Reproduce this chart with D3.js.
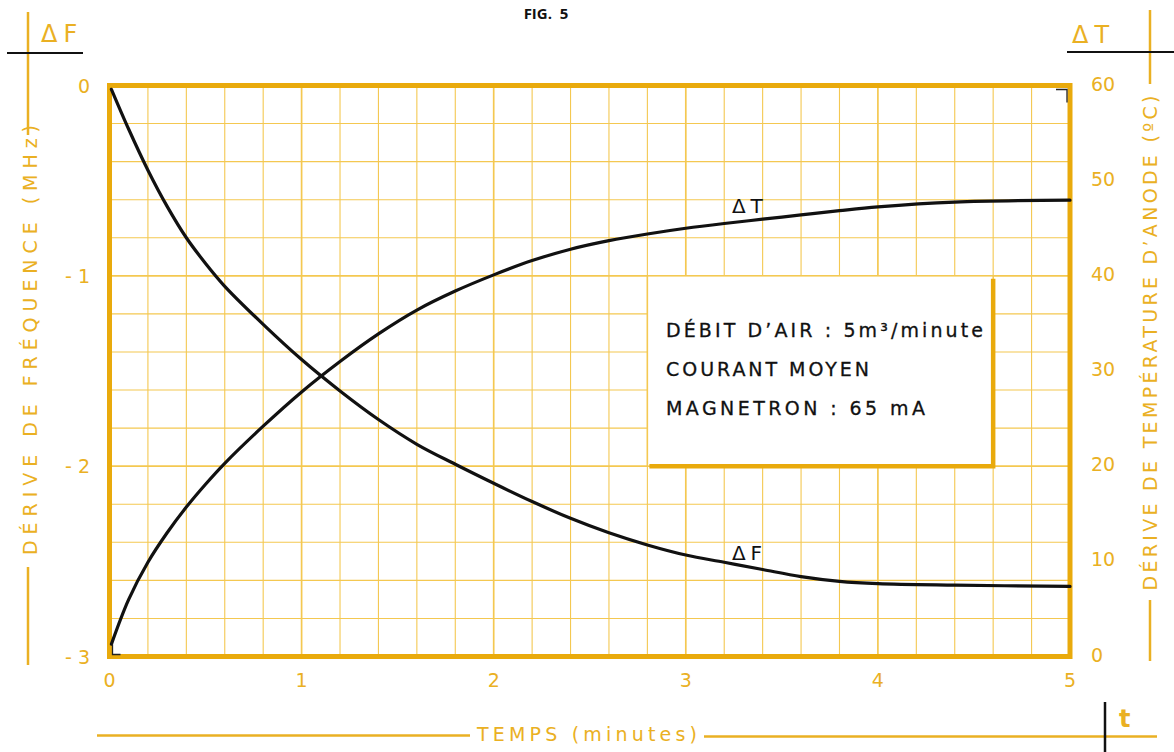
<!DOCTYPE html>
<html><head><meta charset="utf-8">
<script src="https://cdn.jsdelivr.net/npm/d3@7"></script>
<style>
html,body{margin:0;padding:0;background:#fff;}
svg{display:block;}
</style></head>
<body>
<script>
// ---- data ----
const time   = [0.01, 0.1, 0.2, 0.3, 0.4, 0.5, 0.6, 0.8, 1.0, 1.2, 1.4, 1.6, 1.8, 2.0, 2.2, 2.4, 2.6, 2.8, 3.0, 3.2, 3.4, 3.6, 3.8, 4.0, 4.4, 5.0];
const deltaF = [-0.02, -0.23, -0.445, -0.635, -0.80, -0.935, -1.055, -1.255, -1.44, -1.605, -1.755, -1.885, -1.99, -2.09, -2.186, -2.274, -2.35, -2.414, -2.467, -2.505, -2.543, -2.58, -2.605, -2.617, -2.625, -2.632];
const deltaT = [1.3, 6.0, 9.9, 13.0, 15.7, 18.1, 20.3, 24.2, 27.8, 31.0, 33.9, 36.4, 38.4, 40.1, 41.6, 42.8, 43.7, 44.4, 45.0, 45.5, 45.95, 46.4, 46.85, 47.25, 47.75, 47.95];
const xTicks = [0, 1, 2, 3, 4, 5];
const fTicks = [0, -1, -2, -3];
const fTickLabels = ["0", "- 1", "- 2", "- 3"];
const tTicks = [0, 10, 20, 30, 40, 50, 60];
const boxLines = ["DÉBIT  D’AIR : 5m³/minute", "COURANT  MOYEN", "MAGNETRON :  65 mA"];

// ---- styles ----
const W = 1174, H = 752;
const ORANGE = "#e9aa0c", GRID = "#f4c851", TXT = "#eab023";
const FONT = "'DejaVu Sans', sans-serif";

const svg = d3.select("body").append("svg").attr("width", W).attr("height", H);

const x  = d3.scaleLinear().domain([0, 5]).range([109.5, 1070]);
const yF = d3.scaleLinear().domain([-3, 0]).range([656.5, 85.5]);
const yT = d3.scaleLinear().domain([0, 60]).range([656.5, 85.5]);

// grid
const g = svg.append("g");
const vMinor = d3.range(1, 25).map(i => i * 0.2);
g.selectAll(".vg").data(vMinor).join("line")
  .attr("x1", d => x(d)).attr("x2", d => x(d))
  .attr("y1", yF(0)).attr("y2", yF(-3))
  .attr("stroke", GRID)
  .attr("stroke-width", (d, i) => ((i + 1) % 5 === 0 ? 1.7 : 1.1));
const hMinor = d3.range(1, 15).map(i => -i * 0.2);
g.selectAll(".hg").data(hMinor).join("line")
  .attr("y1", d => yF(d)).attr("y2", d => yF(d))
  .attr("x1", x(0)).attr("x2", x(5))
  .attr("stroke", GRID)
  .attr("stroke-width", (d, i) => ((i + 1) % 5 === 0 ? 1.7 : 1.1));

// info box (white, covers grid)
const bx0 = x(2.8), bx1 = x(4.6), by0 = yF(-1), by1 = yF(-2);
svg.append("rect").attr("x", bx0).attr("y", by0).attr("width", bx1 - bx0).attr("height", by1 - by0)
  .attr("fill", "#fff").attr("stroke", GRID).attr("stroke-width", 1.5);
svg.append("path")
  .attr("d", `M${bx1},${by0 + 3} L${bx1},${by1} L${bx0 + 2},${by1}`)
  .attr("fill", "none").attr("stroke", ORANGE).attr("stroke-width", 4.5);
const boxLens = [317, 203, 259];
svg.selectAll(".bt").data(boxLines).join("text")
  .attr("x", 666).attr("y", (d, i) => 337 + i * 39)
  .attr("textLength", (d, i) => boxLens[i]).attr("lengthAdjust", "spacing")
  .attr("font-family", FONT).attr("font-size", 19).attr("fill", "#111")
  .attr("stroke", "#111").attr("stroke-width", 0.3)
  .text(d => d);

// border
svg.append("rect").attr("x", x(0)).attr("y", yF(0)).attr("width", x(5) - x(0)).attr("height", yF(-3) - yF(0))
  .attr("fill", "none").attr("stroke", ORANGE).attr("stroke-width", 5);

// curves
const lineF = d3.line().x((d, i) => x(time[i])).y(d => yF(d)).curve(d3.curveCatmullRom.alpha(0.5));
const lineT = d3.line().x((d, i) => x(time[i])).y(d => yT(d)).curve(d3.curveCatmullRom.alpha(0.5));
svg.append("path").attr("d", lineF(deltaF)).attr("fill", "none").attr("stroke", "#111").attr("stroke-width", 3.2).attr("stroke-linecap", "round");
svg.append("path").attr("d", lineT(deltaT)).attr("fill", "none").attr("stroke", "#111").attr("stroke-width", 3.2).attr("stroke-linecap", "round");

// small registration marks
svg.append("path").attr("d", `M${x(5) - 14},${yF(0) + 4} H${x(5) - 3} V${yF(0) + 17}`)
  .attr("fill", "none").attr("stroke", "#222").attr("stroke-width", 1.3);
svg.append("path").attr("d", `M${x(0) + 3},${yF(-3) - 12} V${yF(-3) - 2} H${x(0) + 11}`)
  .attr("fill", "none").attr("stroke", "#222").attr("stroke-width", 1.3);

// curve labels
svg.append("text").attr("x", x(3.24)).attr("y", yT(45.7) - 9).attr("font-family", FONT).attr("font-size", 20)
  .attr("letter-spacing", 5).attr("fill", "#111").text("ΔT");
svg.append("text").attr("x", x(3.24)).attr("y", yF(-2.495)).attr("font-family", FONT).attr("font-size", 20)
  .attr("letter-spacing", 5).attr("fill", "#111").text("ΔF");

// tick labels
svg.selectAll(".xl").data(xTicks).join("text")
  .attr("x", d => x(d)).attr("y", 687).attr("text-anchor", "middle")
  .attr("font-family", FONT).attr("font-size", 19).attr("fill", TXT).text(d => d);
svg.selectAll(".fl").data(fTicks).join("text")
  .attr("x", 90).attr("y", d => yF(d) + 7).attr("text-anchor", "end")
  .attr("font-family", FONT).attr("font-size", 19).attr("fill", TXT)
  .text((d, i) => fTickLabels[i]);
svg.selectAll(".tl").data(tTicks).join("text")
  .attr("x", 1091).attr("y", d => yT(d) + 5).attr("text-anchor", "start")
  .attr("font-family", FONT).attr("font-size", 19).attr("fill", TXT).text(d => d);

// left axis title + decorations
svg.append("text").attr("transform", "translate(30,340) rotate(-90)")
  .attr("text-anchor", "middle").attr("dominant-baseline", "central")
  .attr("textLength", 430).attr("lengthAdjust", "spacing")
  .attr("font-family", FONT).attr("font-size", 19).attr("fill", TXT)
  .text("DÉRIVE DE FRÉQUENCE (MHz)");
svg.append("line").attr("x1", 28).attr("x2", 28).attr("y1", 12).attr("y2", 135).attr("stroke", TXT).attr("stroke-width", 2.5);
svg.append("line").attr("x1", 28).attr("x2", 28).attr("y1", 567).attr("y2", 665).attr("stroke", TXT).attr("stroke-width", 2.5);
svg.append("line").attr("x1", 7).attr("x2", 83).attr("y1", 53).attr("y2", 53).attr("stroke", "#111").attr("stroke-width", 2);
svg.append("text").attr("x", 41).attr("y", 42).attr("font-family", FONT).attr("font-size", 24)
  .attr("letter-spacing", 6).attr("fill", TXT).text("ΔF");

// right axis title + decorations
svg.append("text").attr("transform", "translate(1150,343) rotate(-90)")
  .attr("text-anchor", "middle").attr("dominant-baseline", "central")
  .attr("textLength", 495).attr("lengthAdjust", "spacing")
  .attr("font-family", FONT).attr("font-size", 19).attr("fill", TXT)
  .text("DÉRIVE DE TEMPÉRATURE D’ANODE (ºC)");
svg.append("line").attr("x1", 1150).attr("x2", 1150).attr("y1", 10).attr("y2", 84).attr("stroke", TXT).attr("stroke-width", 2.5);
svg.append("line").attr("x1", 1150).attr("x2", 1150).attr("y1", 600).attr("y2", 661).attr("stroke", TXT).attr("stroke-width", 2.5);
svg.append("line").attr("x1", 1067).attr("x2", 1174).attr("y1", 52).attr("y2", 52).attr("stroke", "#111").attr("stroke-width", 2);
svg.append("text").attr("x", 1072).attr("y", 43).attr("font-family", FONT).attr("font-size", 24)
  .attr("letter-spacing", 6).attr("fill", TXT).text("ΔT");

// bottom title + decorations
svg.append("text").attr("x", 587).attr("y", 741).attr("text-anchor", "middle")
  .attr("textLength", 220).attr("lengthAdjust", "spacing")
  .attr("font-family", FONT).attr("font-size", 19).attr("fill", TXT).text("TEMPS (minutes)");
svg.append("line").attr("x1", 97).attr("x2", 470).attr("y1", 735.5).attr("y2", 735.5).attr("stroke", TXT).attr("stroke-width", 2.5);
svg.append("line").attr("x1", 704).attr("x2", 1157).attr("y1", 736.5).attr("y2", 736.5).attr("stroke", TXT).attr("stroke-width", 2.5);
svg.append("line").attr("x1", 1105).attr("x2", 1105).attr("y1", 702).attr("y2", 752).attr("stroke", "#111").attr("stroke-width", 2.5);
svg.append("text").attr("x", 1119).attr("y", 727).attr("font-family", FONT).attr("font-size", 24)
  .attr("font-weight", "bold").attr("fill", TXT).text("t");

// figure label
svg.append("text").attr("x", 546).attr("y", 19).attr("text-anchor", "middle")
  .attr("font-family", "'Open Sans', sans-serif").attr("font-size", 15).attr("font-weight", "bold")
  .attr("fill", "#111").attr("xml:space", "preserve").text("FIG.  5");
</script>
</body></html>
